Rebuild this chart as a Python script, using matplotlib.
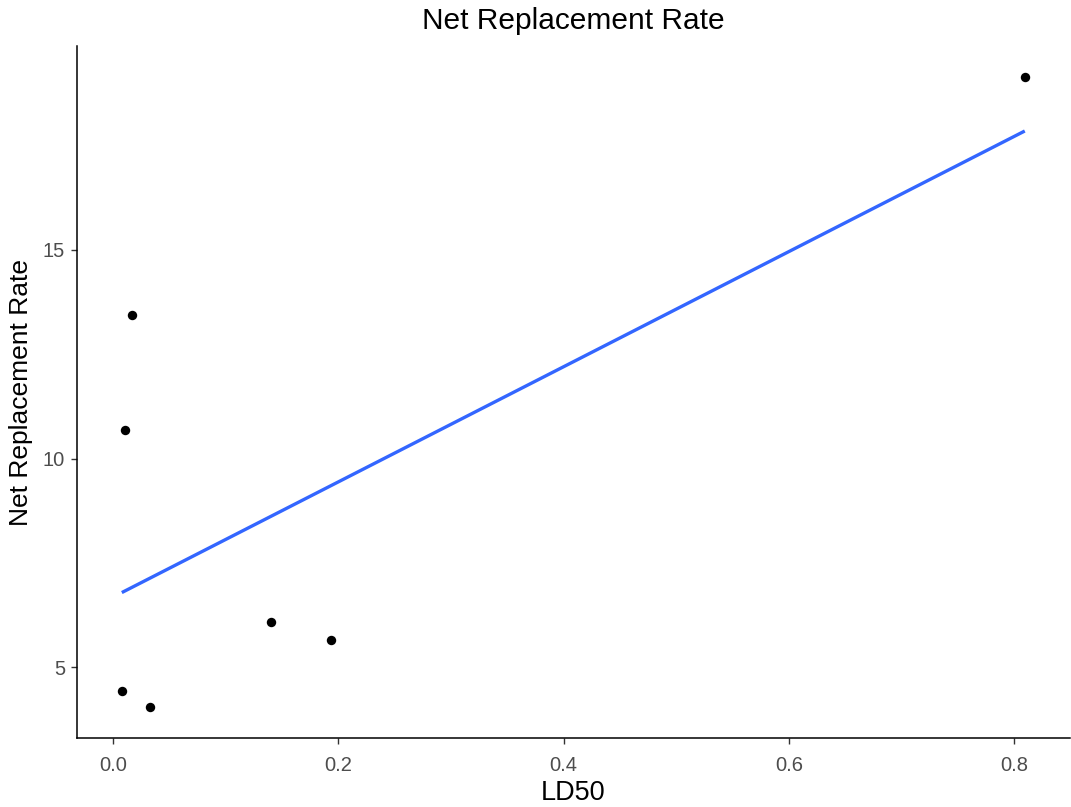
import numpy as np
import matplotlib
matplotlib.use("Agg")
import matplotlib.pyplot as plt

# Data
ld50 = [0.0080, 0.0109, 0.0171, 0.0331, 0.1406, 0.1935, 0.8094]
nrr = [4.44, 10.69, 13.44, 4.06, 6.09, 5.66, 19.13]
x_ticks = [0.0, 0.2, 0.4, 0.6, 0.8]
x_tick_labels = ["0.0", "0.2", "0.4", "0.6", "0.8"]
y_ticks = [5, 10, 15]
y_tick_labels = ["5", "10", "15"]

plt.rcParams['font.family'] = ['Liberation Sans', 'DejaVu Sans']

fig = plt.figure(figsize=(10.71, 8.07), dpi=100)
ax = fig.add_axes([0.0716, 0.0853, 0.9274, 0.8577])

x = np.array(ld50)
y = np.array(nrr)

# linear fit (like geom_smooth(method = "lm", se = FALSE))
slope, intercept = np.polyfit(x, y, 1)
xs = np.linspace(x.min(), x.max(), 80)
ax.plot(xs, slope * xs + intercept, color="#3366FF", lw=2.4, zorder=2,
        solid_capstyle="butt")

ax.scatter(x, y, s=46, color="black", zorder=3, linewidths=0)

# ggplot-like expansion
xr = x.max() - x.min()
yr = y.max() - y.min()
ax.set_xlim(x.min() - 0.05 * xr, x.max() + 0.05 * xr)
ax.set_ylim(y.min() - 0.05 * yr, y.max() + 0.05 * yr)

ax.set_xticks(x_ticks)
ax.set_xticklabels(x_tick_labels)
ax.set_yticks(y_ticks)
ax.set_yticklabels(y_tick_labels)

for side in ["top", "right"]:
    ax.spines[side].set_visible(False)
for side in ["left", "bottom"]:
    ax.spines[side].set_linewidth(1.1)
    ax.spines[side].set_color("black")

ax.tick_params(axis="both", length=4.5, width=1.0, color="#333333",
               labelcolor="#4D4D4D", labelsize=14.5)
ax.tick_params(axis="x", pad=8)
ax.tick_params(axis="y", pad=4)

ax.set_xlabel("LD50", fontsize=19.5, color="black", labelpad=4)
ax.set_ylabel("Net Replacement Rate", fontsize=19, color="black", labelpad=7)
ax.set_title("Net Replacement Rate", fontsize=21.5, color="black", pad=12)

fig.savefig("out.png", dpi=100, facecolor="white")
